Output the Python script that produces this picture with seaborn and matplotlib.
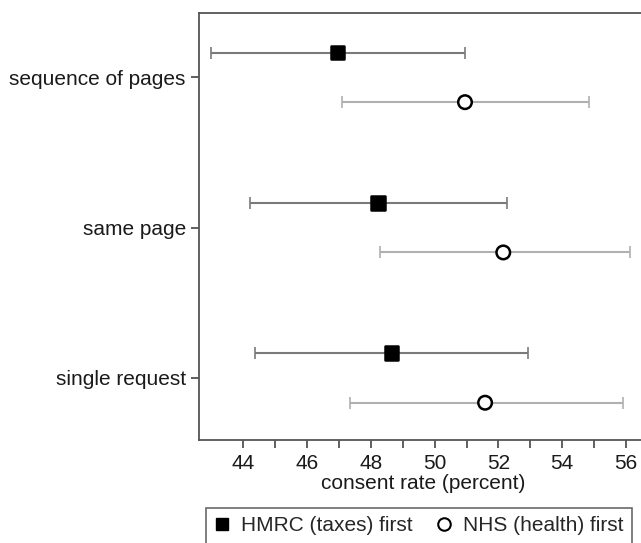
import numpy as np
import pandas as pd
import matplotlib
matplotlib.use("Agg")
import matplotlib.pyplot as plt
import seaborn as sns

# ---------- DATA ----------
conditions = ["sequence of pages", "same page", "single request"]
groups = ["HMRC (taxes) first", "NHS (health) first"]

hmrc_est = [46.95, 48.23, 48.65]
hmrc_lo = [43.0, 44.22, 44.37]
hmrc_hi = [50.94, 52.28, 52.92]

nhs_est = [50.95, 52.15, 51.58]
nhs_lo = [47.1, 48.29, 47.35]
nhs_hi = [54.84, 56.12, 55.89]

# ---------- BUILD TABLE ----------
rows = []
for i, c in enumerate(conditions):
    rows.append({"condition": c, "group": groups[0], "pos": i - 0.165,
                 "est": hmrc_est[i], "lo": hmrc_lo[i], "hi": hmrc_hi[i]})
    rows.append({"condition": c, "group": groups[1], "pos": i + 0.165,
                 "est": nhs_est[i], "lo": nhs_lo[i], "hi": nhs_hi[i]})
df = pd.DataFrame(rows)

# ---------- PLOT ----------
sns.set_style("ticks")
plt.rcParams["font.family"] = ["Liberation Sans", "DejaVu Sans"]

fig = plt.figure(figsize=(6.41, 5.43), dpi=100)
ax = fig.add_axes([0.3105, 0.1897, 0.70, 0.786])

bar_colors = {groups[0]: "#7a7a7a", groups[1]: "#b0b0b0"}
for g in groups:
    sub = df[df["group"] == g]
    ax.errorbar(sub["est"], sub["pos"],
                xerr=[sub["est"] - sub["lo"], sub["hi"] - sub["est"]],
                fmt="none", ecolor=bar_colors[g], elinewidth=1.5,
                capsize=4, capthick=1.2, zorder=2)

sns.scatterplot(data=df, x="est", y="pos", hue="group", style="group",
                markers={groups[0]: "s", groups[1]: "o"},
                palette={groups[0]: "black", groups[1]: "white"},
                edgecolor="black", linewidth=1.8, s=95, zorder=3,
                legend=False, ax=ax)

ax.set_xlim(42.61, 56.68)
ax.set_ylim(2.413, -0.427)
ax.set_yticks(range(len(conditions)))
ax.set_yticklabels(conditions)
ax.set_xticks(np.arange(44, 57, 2))
ax.set_xticks(np.arange(45, 57, 2), minor=True)
ax.tick_params(axis="both", which="both", direction="out", length=6,
               width=1.2, color="#444444", labelsize=15, labelcolor="#1a1a1a")
ax.tick_params(axis="x", pad=4)
ax.set_xlabel("consent rate (percent)", fontsize=15, labelpad=1, color="#1a1a1a")
ax.set_ylabel("")
for s in ax.spines.values():
    s.set_visible(True)
    s.set_color("#555555")
    s.set_linewidth(1.3)

handles = [
    plt.Line2D([], [], marker="s", color="black", linestyle="none",
               markersize=9),
    plt.Line2D([], [], marker="o", markerfacecolor="white",
               markeredgecolor="black", markeredgewidth=1.5,
               linestyle="none", markersize=9),
]
leg = fig.legend(handles, groups, loc="upper left",
                 bbox_to_anchor=(0.321, 0.0645), ncol=2, fontsize=15,
                 frameon=True, fancybox=False, handlelength=0.8,
                 handletextpad=0.5, columnspacing=1.1, borderpad=0.4,
                 borderaxespad=0)
leg.get_frame().set_edgecolor("#444444")
leg.get_frame().set_linewidth(1.2)

fig.savefig("out.png", dpi=100)
